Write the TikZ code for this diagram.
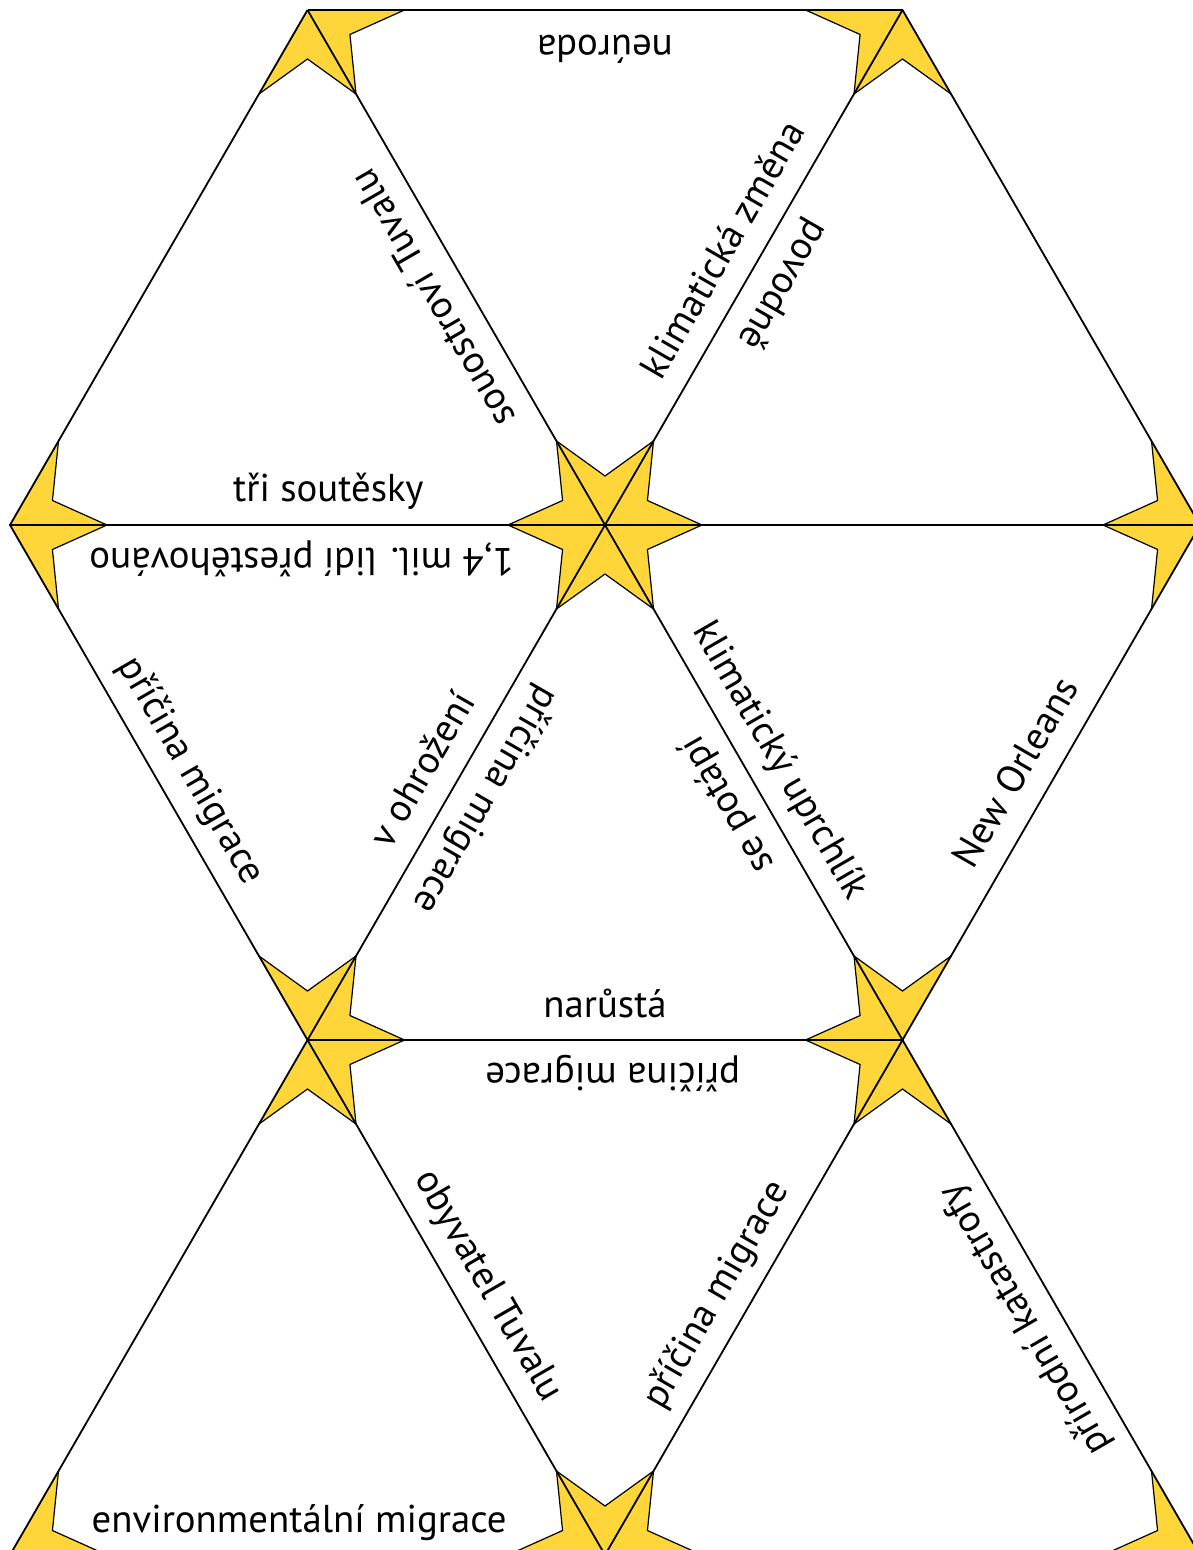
\documentclass[tikz,border=0pt]{standalone}
\usepackage{fontspec}
\setmainfont{PT Sans}
\usepackage{xcolor}
\usepackage{tikz}
\usetikzlibrary{calc}
\definecolor{staryellow}{RGB}{254,214,58}

\begin{document}
\begin{tikzpicture}[x=0.5pt, y=-0.5pt,
        edge/.style={draw=black, line width=0.9pt},
        starpiece/.style={fill=staryellow, draw=black, line width=0.6pt},
        lbl/.style={sloped, allow upside down, anchor=base, yshift=11.5pt, inner sep=0pt,
            font=\fontsize{19.4}{23}\selectfont}]
    \useasboundingbox (0,0) rectangle (1192,1550);

    \coordinate (t1) at (307.5,10);
    \coordinate (t2) at (902.5,10);
    \coordinate (m1) at (10,525);
    \coordinate (m2) at (605,525);
    \coordinate (m3) at (1200,525);
    \coordinate (l1) at (307.5,1040);
    \coordinate (l2) at (902.5,1040);
    \coordinate (b1) at (10,1555);
    \coordinate (b2) at (605,1555);
    \coordinate (b3) at (1200,1555);

    \begin{scope}
        \clip (t1) -- (t2) -- (m3) -- (l2) -- (b3) -- (b1) -- (l1) -- (m1) -- cycle;
        \foreach \v in {t1,t2,m1,m2,m3,l1,l2,b1,b2,b3}
            \draw[starpiece] ($(\v)+(0:97)$)
                \foreach \a in {0,60,...,300} { -- ($(\v)+({\a+30}:49)$) -- ($(\v)+({\a+60}:97)$) } -- cycle;
    \end{scope}

    \draw[edge] (t1) -- (t2);
    \draw[edge] (t2) -- (m3) -- (l2);
    \draw[edge] (t1) -- (m1) -- (l1);
    \draw[edge] (m1) -- (m3);
    \draw[edge] (l1) -- (l2);
    \draw[edge] (b1) -- (b3);
    \draw[edge] (t1) -- (m2) -- (l2) -- (b3);
    \draw[edge] (t2) -- (m2) -- (l1) -- (b1);
    \draw[edge] (l1) -- (b2) -- (l2);

    \path (m2) -- (t1) node[lbl, pos=0.475] (souostrovi) {souostroví Tuvalu};
    \path (m1) -- (m2) node[lbl, pos=0.535] (soutesky) {tři soutěsky};
    \path (t2) -- (t1) node[lbl, pos=0.5, yshift=1.5pt] (neuroda) {neúroda};
    \path (m2) -- (t2) node[lbl, pos=0.5] (zmena) {klimatická změna};
    \path (t2) -- (m2) node[lbl, pos=0.5] (povodne) {povodně};

    \path (m2) -- (m1) node[lbl, pos=0.51] (prestehovano) {1,4 mil. lidí přestěhováno};
    \path (m1) -- (l1) node[lbl, pos=0.51] (pricinaD) {příčina migrace};
    \path (l1) -- (m2) node[lbl, pos=0.49] (ohrozeni) {v ohrožení};
    \path (m2) -- (l1) node[lbl, pos=0.5] (pricinaE) {příčina migrace};
    \path (l1) -- (l2) node[lbl, pos=0.5] (narusta) {narůstá};
    \path (l2) -- (m2) node[lbl, pos=0.49] (potapi) {se potápí};
    \path (m2) -- (l2) node[lbl, pos=0.49] (uprchlik) {klimatický uprchlík};
    \path (l2) -- (m3) node[lbl, pos=0.485] (orleans) {New Orleans};

    \path (b1) -- (b2) node[lbl, pos=0.486] (environment) {environmentální migrace};
    \path (l2) -- (l1) node[lbl, pos=0.487] (pricinaH) {příčina migrace};
    \path (l1) -- (b2) node[lbl, pos=0.51] (obyvatel) {obyvatel Tuvalu};
    \path (b2) -- (l2) node[lbl, pos=0.473] (pricinaHr) {příčina migrace};
    \path (b3) -- (l2) node[lbl, pos=0.49] (katastrofy) {přírodní katastrofy};
\end{tikzpicture}
\end{document}
